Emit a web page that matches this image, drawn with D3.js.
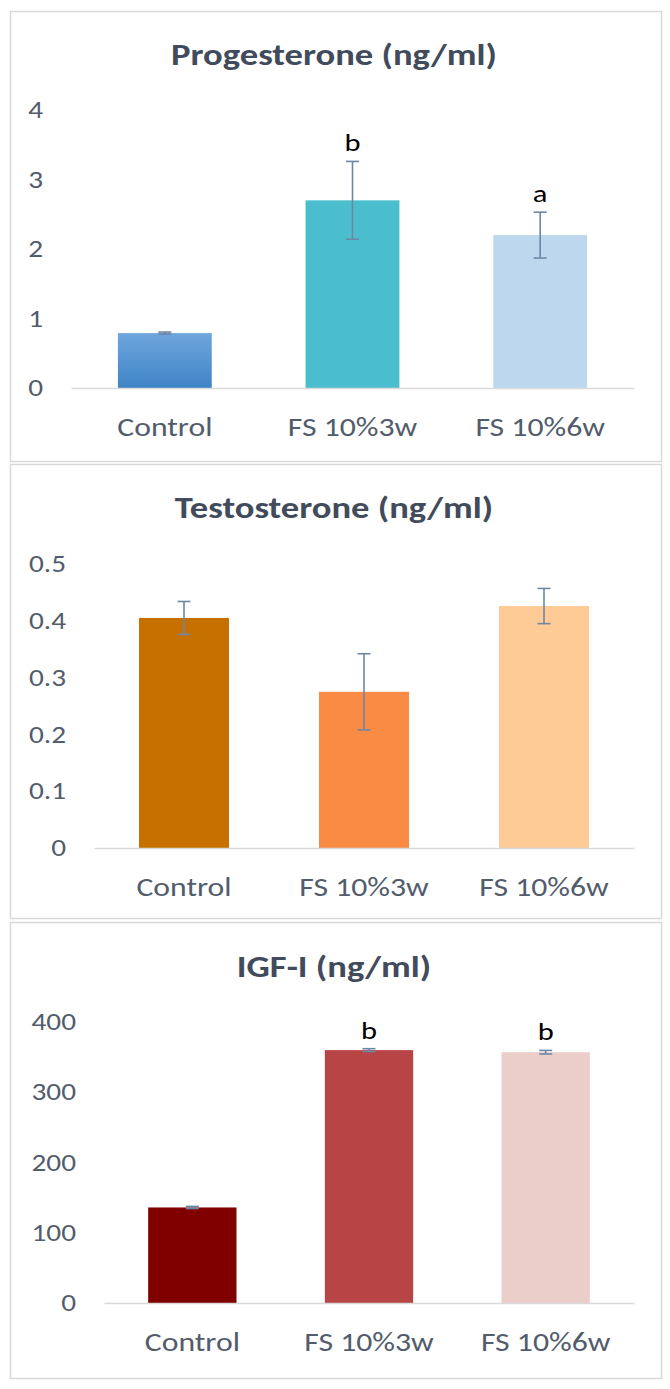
<!DOCTYPE html>
<html>
<head>
<meta charset="utf-8">
<script src="https://cdn.jsdelivr.net/npm/d3@7"></script>
<style>
    body { margin: 0; background: #fff; }
    text { font-family: Carlito, Calibri, Lato, sans-serif; }
</style>
</head>
<body>
<div id="chart"></div>
<script>

// ---- data ----
const categories = ["Control", "FS 10%3w", "FS 10%6w"];

const progTitle = "Progesterone (ng/ml)";
const progMeans = [0.79, 2.70, 2.20];
const progErr = [0.015, 0.56, 0.33];
const progLetters = ["", "b", "a"];
const progTicks = [0, 1, 2, 3, 4];

const testTitle = "Testosterone (ng/ml)";
const testMeans = [0.405, 0.275, 0.426];
const testErr = [0.029, 0.067, 0.031];
const testLetters = ["", "", ""];
const testTicks = [0, 0.1, 0.2, 0.3, 0.4, 0.5];

const igfTitle = "IGF-I (ng/ml)";
const igfMeans = [136, 360, 357];
const igfErr = [1.5, 2, 2.5];
const igfLetters = ["", "b", "b"];
const igfTicks = [0, 100, 200, 300, 400];


let width = 670, height = 1389;
let stretchX = 1.22; // the original figure is a bit wider than tall

let svg = d3.select("#chart").append("svg")
    .attr("width", width)
    .attr("height", height);

// gradient for the first control bar
let defs = svg.append("defs");
let grad = defs.append("linearGradient")
    .attr("id", "blueGrad")
    .attr("x1", 0).attr("y1", 0).attr("x2", 0).attr("y2", 1);
grad.append("stop").attr("offset", "0%").attr("stop-color", "#6FA6DD");
grad.append("stop").attr("offset", "100%").attr("stop-color", "#3F84C6");

// widen text horizontally around its own anchor
function stretch(sel) {
    sel.each(function() {
        let t = d3.select(this);
        let x0 = +t.attr("x") || 0;
        t.attr("x", x0 / stretchX)
            .attr("transform", `scale(${stretchX},1)`);
    });
}

function drawPanel(p) {
    // frame
    svg.append("rect")
        .attr("x", 10.5).attr("y", p.top + 0.5)
        .attr("width", 651).attr("height", p.bottom - p.top)
        .attr("fill", "#fff")
        .attr("stroke", "#D9D9D9")
        .attr("stroke-width", 1.5);

    // title
    svg.append("text")
        .attr("x", 334)
        .attr("y", p.titleY)
        .attr("text-anchor", "middle")
        .attr("font-size", "30px")
        .attr("font-weight", "bold")
        .attr("fill", "#414B5B")
        .text(p.title)
        .call(stretch);

    let x = d3.scaleBand()
        .domain(categories)
        .range([p.left, 634])
        .paddingInner(0.5)
        .paddingOuter(0.25);

    let y = d3.scaleLinear()
        .domain([0, p.ticks[p.ticks.length - 1]])
        .range([p.zero, p.topY]);

    // y axis labels
    let yAxis = svg.append("g")
        .attr("transform", `translate(${p.left},0)`)
        .call(d3.axisLeft(y).tickValues(p.ticks).tickSize(0).tickPadding(28)
            .tickFormat(d3.format("~g")));
    yAxis.select(".domain").remove();
    yAxis.selectAll("text")
        .attr("font-size", "24px")
        .attr("fill", "#525C6C")
        .call(stretch);

    // bars
    let data = categories.map((c, i) => ({
        cat: c, mean: p.means[i], err: p.err[i], letter: p.letters[i], color: p.colors[i]
    }));

    svg.append("g").selectAll("rect")
        .data(data)
        .enter().append("rect")
        .attr("x", d => x(d.cat))
        .attr("y", d => y(d.mean))
        .attr("width", x.bandwidth())
        .attr("height", d => y(0) - y(d.mean))
        .attr("fill", d => d.color);

    // x axis
    let xAxis = svg.append("g")
        .attr("transform", `translate(0,${p.zero})`)
        .call(d3.axisBottom(x).tickSize(0).tickPadding(30));
    xAxis.select(".domain")
        .attr("stroke", "#D9D9D9")
        .attr("stroke-width", 1.5);
    xAxis.selectAll("text")
        .attr("font-size", "26px")
        .attr("fill", "#525C6C")
        .call(stretch);

    // error bars
    let eb = svg.append("g")
        .attr("stroke", "#6E86A6")
        .attr("stroke-width", 1.6);
    data.forEach(d => {
        let cx = x(d.cat) + x.bandwidth() / 2;
        eb.append("line")
            .attr("x1", cx).attr("x2", cx)
            .attr("y1", y(d.mean + d.err)).attr("y2", y(d.mean - d.err));
        [d.mean + d.err, d.mean - d.err].forEach(v => {
            eb.append("line")
                .attr("x1", cx - 6.5).attr("x2", cx + 6.5)
                .attr("y1", y(v)).attr("y2", y(v));
        });
    });

    // significance letters
    svg.append("g").selectAll("text")
        .data(data.filter(d => d.letter !== ""))
        .enter().append("text")
        .attr("x", d => x(d.cat) + x.bandwidth() / 2)
        .attr("y", d => y(d.mean + d.err) - 10)
        .attr("text-anchor", "middle")
        .attr("font-size", "25px")
        .attr("fill", "#000")
        .text(d => d.letter)
        .call(stretch);
}

drawPanel({
    top: 11, bottom: 461, titleY: 65,
    left: 71, zero: 388, topY: 110,
    title: progTitle, means: progMeans, err: progErr, letters: progLetters, ticks: progTicks,
    colors: ["url(#blueGrad)", "#4BBECE", "#BDD7EE"]
});

drawPanel({
    top: 464, bottom: 918, titleY: 518,
    left: 94, zero: 848, topY: 564,
    title: testTitle, means: testMeans, err: testErr, letters: testLetters, ticks: testTicks,
    colors: ["#C67000", "#F98B44", "#FECA96"]
});

drawPanel({
    top: 922, bottom: 1378, titleY: 977,
    left: 104, zero: 1303, topY: 1022,
    title: igfTitle, means: igfMeans, err: igfErr, letters: igfLetters, ticks: igfTicks,
    colors: ["#800000", "#B84545", "#EBCDCA"]
});

</script>
</body>
</html>
